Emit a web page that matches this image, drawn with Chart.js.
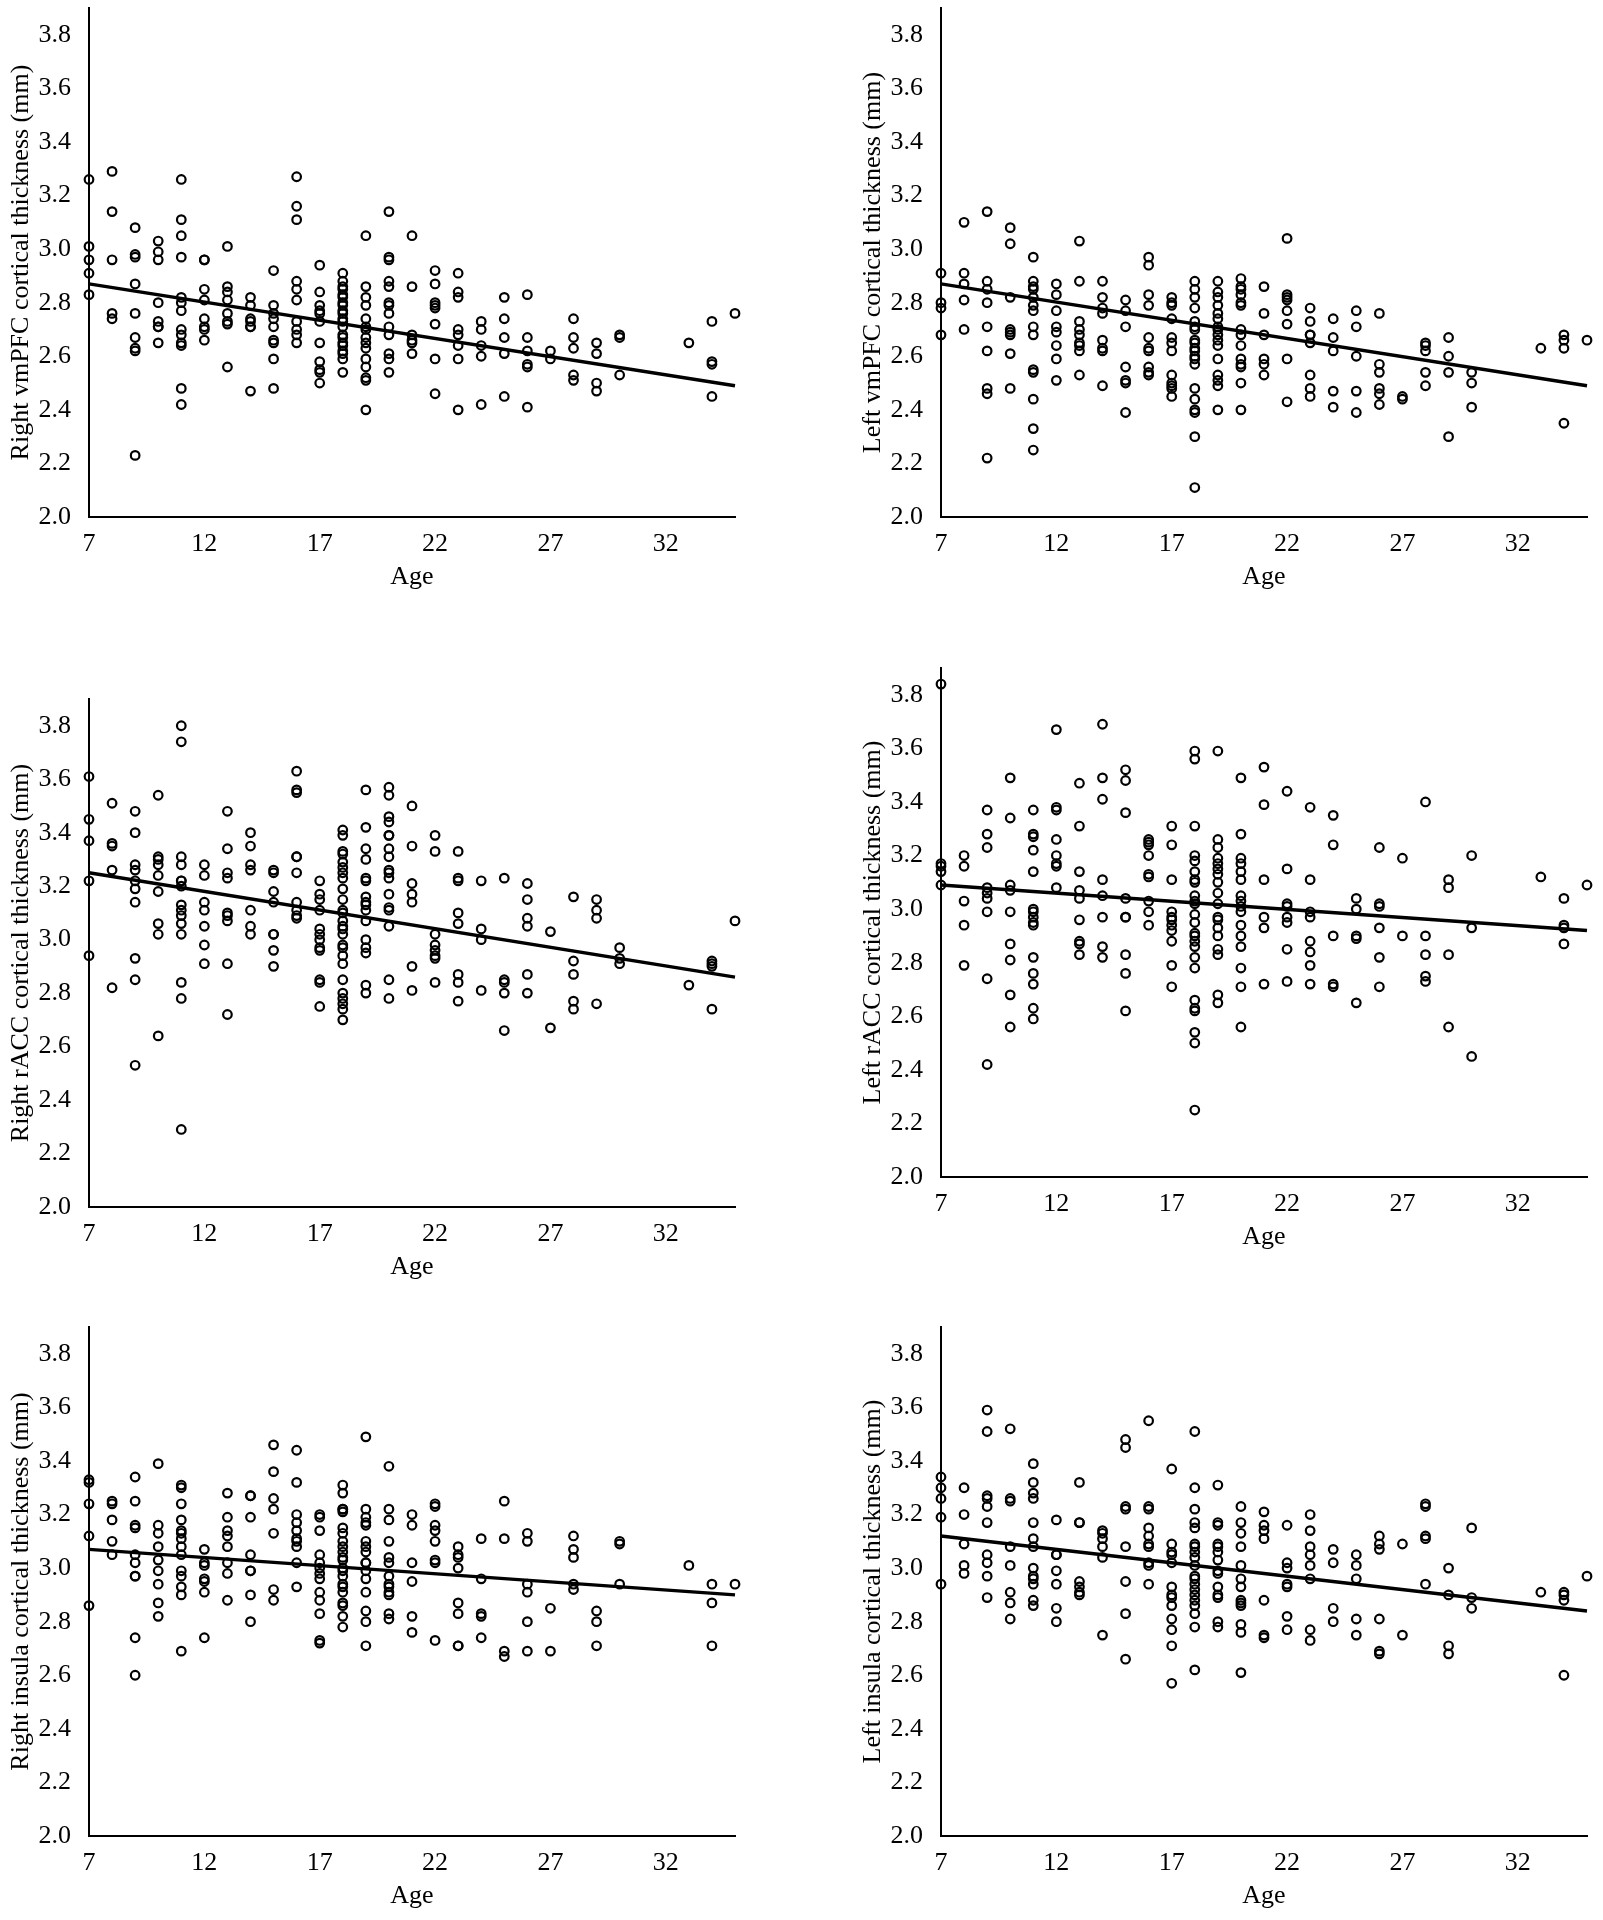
<!DOCTYPE html>
<html>
<head>
    <title>Cortical thickness by age</title>
    <script src="https://cdn.jsdelivr.net/npm/chart.js"></script>
    <style>
        body { margin: 0; background: #fff; }
        #wrap { position: relative; width: 1603px; height: 1920px; overflow: hidden; background: #fff; }
        canvas { position: absolute; }
    </style>
</head>
<body>
<div id="wrap"></div>
<script>
// ages present in the sample (no subjects aged 31-32)
const AGES = [7, 8, 9, 10, 11, 12, 13, 14, 15, 16, 17, 18, 19, 20, 21, 22, 23, 24, 25, 26, 27, 28, 29, 30, 33, 34, 35];
const X_TICKS = [7, 12, 17, 22, 27, 32];
const Y_TICKS = [2.0, 2.2, 2.4, 2.6, 2.8, 3.0, 3.2, 3.4, 3.6, 3.8];
const TREND_X = [7, 35];

// thickness values, one list per age in AGES order
const rightVmPFC = [
    [3.26, 3.01, 2.96, 2.91, 2.83],
    [3.29, 3.14, 2.96, 2.76, 2.74],
    [3.08, 2.98, 2.97, 2.87, 2.76, 2.67, 2.63, 2.62, 2.23],
    [3.03, 2.99, 2.96, 2.80, 2.73, 2.71, 2.71, 2.65],
    [3.26, 3.11, 3.05, 2.97, 2.82, 2.80, 2.77, 2.70, 2.68, 2.65, 2.64, 2.48, 2.42],
    [2.96, 2.96, 2.85, 2.81, 2.74, 2.71, 2.70, 2.66],
    [3.01, 2.86, 2.84, 2.81, 2.76, 2.73, 2.72, 2.56],
    [2.82, 2.79, 2.74, 2.73, 2.71, 2.71, 2.47],
    [2.92, 2.79, 2.76, 2.74, 2.71, 2.66, 2.65, 2.59, 2.48],
    [3.27, 3.16, 3.11, 2.88, 2.85, 2.81, 2.73, 2.70, 2.68, 2.65],
    [2.94, 2.84, 2.79, 2.77, 2.76, 2.73, 2.65, 2.58, 2.55, 2.54, 2.50],
    [2.91, 2.88, 2.86, 2.85, 2.83, 2.82, 2.80, 2.79, 2.77, 2.76, 2.74, 2.73, 2.71, 2.68, 2.67, 2.65, 2.64, 2.62, 2.61, 2.59, 2.54],
    [3.05, 2.86, 2.82, 2.79, 2.74, 2.71, 2.70, 2.67, 2.65, 2.63, 2.59, 2.56, 2.52, 2.51, 2.40],
    [3.14, 2.97, 2.96, 2.88, 2.86, 2.80, 2.79, 2.76, 2.71, 2.68, 2.61, 2.59, 2.54],
    [3.05, 2.86, 2.68, 2.66, 2.65, 2.61],
    [2.92, 2.87, 2.80, 2.79, 2.78, 2.72, 2.59, 2.46],
    [2.91, 2.84, 2.82, 2.70, 2.68, 2.64, 2.59, 2.40],
    [2.73, 2.70, 2.64, 2.60, 2.42],
    [2.82, 2.74, 2.67, 2.61, 2.45],
    [2.83, 2.67, 2.62, 2.57, 2.56, 2.41],
    [2.62, 2.59],
    [2.74, 2.67, 2.63, 2.53, 2.51],
    [2.65, 2.61, 2.50, 2.47],
    [2.68, 2.67, 2.53],
    [2.65],
    [2.73, 2.58, 2.57, 2.45],
    [2.76]
];
const leftVmPFC = [
    [2.91, 2.80, 2.78, 2.68],
    [3.10, 2.91, 2.87, 2.81, 2.70],
    [3.14, 2.88, 2.85, 2.80, 2.71, 2.62, 2.48, 2.46, 2.22],
    [3.08, 3.02, 2.82, 2.70, 2.69, 2.68, 2.61, 2.48],
    [2.97, 2.88, 2.86, 2.85, 2.82, 2.79, 2.77, 2.71, 2.68, 2.55, 2.54, 2.44, 2.33, 2.25],
    [2.87, 2.83, 2.77, 2.71, 2.69, 2.64, 2.59, 2.51],
    [3.03, 2.88, 2.73, 2.70, 2.68, 2.65, 2.64, 2.62, 2.53],
    [2.88, 2.82, 2.78, 2.76, 2.66, 2.63, 2.62, 2.49],
    [2.81, 2.77, 2.71, 2.56, 2.51, 2.50, 2.39],
    [2.97, 2.94, 2.83, 2.79, 2.67, 2.63, 2.62, 2.56, 2.54, 2.53],
    [2.82, 2.80, 2.79, 2.74, 2.67, 2.65, 2.62, 2.53, 2.50, 2.49, 2.48, 2.45],
    [2.88, 2.85, 2.82, 2.78, 2.73, 2.71, 2.70, 2.66, 2.65, 2.63, 2.62, 2.60, 2.59, 2.57, 2.48, 2.44, 2.40, 2.39, 2.30, 2.11],
    [2.88, 2.84, 2.82, 2.79, 2.76, 2.74, 2.71, 2.70, 2.68, 2.66, 2.64, 2.59, 2.53, 2.51, 2.49, 2.40],
    [2.89, 2.86, 2.85, 2.83, 2.80, 2.79, 2.70, 2.68, 2.64, 2.59, 2.57, 2.56, 2.50, 2.40],
    [2.86, 2.76, 2.68, 2.59, 2.57, 2.53],
    [3.04, 2.83, 2.82, 2.81, 2.77, 2.72, 2.59, 2.43],
    [2.78, 2.73, 2.68, 2.68, 2.65, 2.53, 2.48, 2.45],
    [2.74, 2.67, 2.62, 2.47, 2.41],
    [2.77, 2.71, 2.60, 2.47, 2.39],
    [2.76, 2.57, 2.54, 2.48, 2.46, 2.42],
    [2.45, 2.44],
    [2.65, 2.64, 2.62, 2.54, 2.49],
    [2.67, 2.60, 2.54, 2.30],
    [2.54, 2.50, 2.41],
    [2.63],
    [2.68, 2.66, 2.63, 2.35],
    [2.66]
];
const rightRACC = [
    [3.61, 3.45, 3.37, 3.22, 2.94],
    [3.51, 3.36, 3.35, 3.26, 2.82],
    [3.48, 3.40, 3.28, 3.26, 3.22, 3.19, 3.14, 2.93, 2.85, 2.53],
    [3.54, 3.31, 3.30, 3.28, 3.24, 3.18, 3.06, 3.02, 2.64],
    [3.80, 3.74, 3.31, 3.28, 3.22, 3.22, 3.20, 3.13, 3.11, 3.09, 3.06, 3.02, 2.84, 2.78, 2.29],
    [3.28, 3.24, 3.14, 3.11, 3.05, 2.98, 2.91],
    [3.48, 3.34, 3.25, 3.23, 3.10, 3.09, 3.07, 2.91, 2.72],
    [3.40, 3.35, 3.28, 3.26, 3.11, 3.05, 3.02],
    [3.26, 3.25, 3.18, 3.14, 3.02, 3.02, 2.96, 2.90],
    [3.63, 3.56, 3.55, 3.31, 3.31, 3.25, 3.14, 3.11, 3.09, 3.08],
    [3.22, 3.17, 3.15, 3.11, 3.04, 3.02, 3.00, 2.97, 2.96, 2.85, 2.84, 2.75],
    [3.41, 3.39, 3.33, 3.32, 3.29, 3.27, 3.25, 3.23, 3.19, 3.15, 3.11, 3.10, 3.07, 3.05, 3.04, 3.02, 2.98, 2.97, 2.94, 2.91, 2.85, 2.80, 2.78, 2.76, 2.74, 2.70],
    [3.56, 3.42, 3.34, 3.30, 3.23, 3.22, 3.16, 3.14, 3.13, 3.11, 3.07, 3.00, 2.97, 2.95, 2.83, 2.80],
    [3.57, 3.54, 3.46, 3.44, 3.39, 3.39, 3.34, 3.31, 3.26, 3.25, 3.23, 3.17, 3.12, 3.11, 3.05, 2.85, 2.78],
    [3.50, 3.35, 3.21, 3.17, 3.14, 2.90, 2.81],
    [3.39, 3.33, 3.02, 2.98, 2.96, 2.94, 2.93, 2.84],
    [3.33, 3.23, 3.22, 3.10, 3.06, 2.87, 2.84, 2.77],
    [3.22, 3.04, 3.00, 2.81],
    [3.23, 2.85, 2.84, 2.80, 2.66],
    [3.21, 3.15, 3.08, 3.05, 2.87, 2.80],
    [3.03, 2.67],
    [3.16, 2.92, 2.87, 2.77, 2.74],
    [3.15, 3.11, 3.08, 2.76],
    [2.97, 2.93, 2.91],
    [2.83],
    [2.92, 2.91, 2.90, 2.74],
    [3.07]
];
const leftRACC = [
    [3.84, 3.17, 3.16, 3.14, 3.09],
    [3.20, 3.16, 3.03, 2.94, 2.79],
    [3.37, 3.28, 3.23, 3.08, 3.06, 3.04, 2.99, 2.74, 2.42],
    [3.49, 3.34, 3.09, 3.07, 2.99, 2.87, 2.81, 2.68, 2.56],
    [3.37, 3.28, 3.27, 3.22, 3.14, 3.00, 2.99, 2.97, 2.95, 2.94, 2.82, 2.76, 2.72, 2.63, 2.59],
    [3.67, 3.38, 3.37, 3.26, 3.20, 3.17, 3.16, 3.08],
    [3.47, 3.31, 3.14, 3.07, 3.04, 2.96, 2.88, 2.87, 2.83],
    [3.69, 3.49, 3.41, 3.11, 3.05, 2.97, 2.86, 2.82],
    [3.52, 3.48, 3.36, 3.04, 2.97, 2.97, 2.83, 2.76, 2.62],
    [3.26, 3.25, 3.24, 3.20, 3.13, 3.12, 3.03, 2.99, 2.94],
    [3.31, 3.24, 3.11, 2.99, 2.97, 2.96, 2.94, 2.92, 2.88, 2.79, 2.71],
    [3.59, 3.56, 3.31, 3.20, 3.18, 3.14, 3.11, 3.10, 3.05, 3.03, 3.02, 2.98, 2.95, 2.91, 2.90, 2.88, 2.86, 2.82, 2.78, 2.66, 2.63, 2.62, 2.54, 2.50, 2.25],
    [3.59, 3.26, 3.23, 3.19, 3.17, 3.15, 3.13, 3.10, 3.06, 3.02, 2.97, 2.96, 2.93, 2.90, 2.85, 2.83, 2.68, 2.65],
    [3.49, 3.28, 3.19, 3.17, 3.14, 3.11, 3.05, 3.03, 3.01, 2.99, 2.94, 2.90, 2.86, 2.78, 2.71, 2.56],
    [3.53, 3.39, 3.11, 2.97, 2.93, 2.72],
    [3.44, 3.15, 3.02, 3.01, 2.97, 2.95, 2.85, 2.73],
    [3.38, 3.11, 2.99, 2.97, 2.88, 2.84, 2.79, 2.72],
    [3.35, 3.24, 2.90, 2.72, 2.71],
    [3.04, 3.00, 2.90, 2.89, 2.65],
    [3.23, 3.02, 3.01, 2.93, 2.82, 2.71],
    [3.19, 2.90],
    [3.40, 2.90, 2.83, 2.75, 2.73],
    [3.11, 3.08, 2.83, 2.56],
    [3.20, 2.93, 2.45],
    [3.12],
    [3.04, 2.94, 2.93, 2.87],
    [3.09]
];
const rightInsula = [
    [3.33, 3.32, 3.24, 3.12, 2.86],
    [3.25, 3.24, 3.18, 3.10, 3.05],
    [3.34, 3.25, 3.16, 3.15, 3.05, 3.02, 2.97, 2.97, 2.74, 2.60],
    [3.39, 3.16, 3.13, 3.08, 3.03, 2.99, 2.94, 2.87, 2.82],
    [3.31, 3.30, 3.24, 3.18, 3.14, 3.13, 3.11, 3.08, 3.05, 2.99, 2.97, 2.93, 2.90, 2.69],
    [3.07, 3.02, 3.01, 2.96, 2.95, 2.91, 2.74],
    [3.28, 3.19, 3.14, 3.12, 3.08, 3.02, 2.98, 2.88],
    [3.27, 3.27, 3.19, 3.05, 2.99, 2.99, 2.90, 2.80],
    [3.46, 3.36, 3.26, 3.22, 3.13, 2.92, 2.88],
    [3.44, 3.32, 3.20, 3.17, 3.14, 3.11, 3.10, 3.08, 3.02, 2.93],
    [3.20, 3.19, 3.14, 3.05, 3.02, 3.00, 2.98, 2.96, 2.91, 2.88, 2.83, 2.73, 2.72],
    [3.31, 3.28, 3.22, 3.22, 3.21, 3.15, 3.13, 3.10, 3.08, 3.06, 3.04, 3.03, 3.00, 2.99, 2.97, 2.94, 2.93, 2.91, 2.87, 2.86, 2.82, 2.78],
    [3.49, 3.22, 3.19, 3.17, 3.16, 3.10, 3.08, 3.06, 3.02, 3.02, 2.99, 2.96, 2.91, 2.84, 2.80, 2.71],
    [3.38, 3.22, 3.18, 3.10, 3.04, 3.02, 2.97, 2.94, 2.93, 2.91, 2.90, 2.83, 2.81],
    [3.20, 3.16, 3.02, 2.95, 2.82, 2.76],
    [3.24, 3.23, 3.16, 3.14, 3.10, 3.03, 3.02, 2.73],
    [3.08, 3.05, 3.04, 3.00, 2.87, 2.83, 2.71, 2.71],
    [3.11, 2.96, 2.83, 2.82, 2.74],
    [3.25, 3.11, 2.69, 2.67],
    [3.13, 3.10, 2.94, 2.91, 2.80, 2.69],
    [2.85, 2.69],
    [3.12, 3.07, 3.04, 2.94, 2.92],
    [2.84, 2.80, 2.71],
    [3.10, 3.09, 2.94],
    [3.01],
    [2.94, 2.87, 2.71],
    [2.94]
];
const leftInsula = [
    [3.34, 3.30, 3.26, 3.19, 2.94],
    [3.30, 3.20, 3.09, 3.01, 2.98],
    [3.59, 3.51, 3.27, 3.26, 3.23, 3.17, 3.05, 3.02, 2.97, 2.89],
    [3.52, 3.26, 3.25, 3.08, 3.01, 2.91, 2.87, 2.81],
    [3.39, 3.32, 3.28, 3.26, 3.17, 3.11, 3.08, 3.00, 2.97, 2.96, 2.94, 2.88, 2.86],
    [3.18, 3.05, 3.05, 2.99, 2.94, 2.85, 2.80],
    [3.32, 3.17, 3.17, 2.95, 2.93, 2.91, 2.90],
    [3.14, 3.13, 3.11, 3.08, 3.04, 2.75],
    [3.48, 3.45, 3.23, 3.22, 3.08, 2.95, 2.83, 2.66],
    [3.55, 3.23, 3.22, 3.15, 3.12, 3.09, 3.08, 3.02, 3.01, 2.94],
    [3.37, 3.09, 3.06, 3.05, 3.02, 2.93, 2.90, 2.89, 2.86, 2.81, 2.77, 2.71, 2.57],
    [3.51, 3.30, 3.22, 3.17, 3.15, 3.09, 3.08, 3.06, 3.04, 3.01, 2.97, 2.96, 2.94, 2.92, 2.90, 2.88, 2.86, 2.83, 2.78, 2.62],
    [3.31, 3.17, 3.16, 3.09, 3.08, 3.06, 3.03, 2.99, 2.98, 2.93, 2.90, 2.89, 2.80, 2.78],
    [3.23, 3.17, 3.13, 3.08, 3.01, 2.96, 2.93, 2.88, 2.87, 2.86, 2.79, 2.76, 2.61],
    [3.21, 3.16, 3.14, 3.11, 2.88, 2.75, 2.74],
    [3.16, 3.02, 3.00, 2.94, 2.93, 2.82, 2.77],
    [3.20, 3.14, 3.08, 3.05, 3.01, 2.96, 2.77, 2.73],
    [3.07, 3.02, 2.85, 2.80],
    [3.05, 3.01, 2.96, 2.81, 2.75],
    [3.12, 3.09, 3.07, 2.81, 2.69, 2.68],
    [3.09, 2.75],
    [3.24, 3.23, 3.12, 3.11, 2.94],
    [3.00, 2.90, 2.71, 2.68],
    [3.15, 2.89, 2.85],
    [2.91],
    [2.91, 2.90, 2.88, 2.60],
    [2.97]
];

// fitted lines, value at age 7 and at age 35
const rightVmPFCTrend = [2.87, 2.49];
const leftVmPFCTrend = [2.87, 2.49];
const rightRACCTrend = [3.25, 2.86];
const leftRACCTrend = [3.09, 2.92];
const rightInsulaTrend = [3.07, 2.90];
const leftInsulaTrend = [3.12, 2.84];

const panels = [
    { title: 'Right vmPFC cortical thickness (mm)', values: rightVmPFC, trend: rightVmPFCTrend, axisX: 89, top: 8, bottom: 517 },
    { title: 'Left vmPFC cortical thickness (mm)', values: leftVmPFC, trend: leftVmPFCTrend, axisX: 941, top: 8, bottom: 517 },
    { title: 'Right rACC cortical thickness (mm)', values: rightRACC, trend: rightRACCTrend, axisX: 89, top: 699, bottom: 1207 },
    { title: 'Left rACC cortical thickness (mm)', values: leftRACC, trend: leftRACCTrend, axisX: 941, top: 668, bottom: 1177 },
    { title: 'Right insula cortical thickness (mm)', values: rightInsula, trend: rightInsulaTrend, axisX: 89, top: 1327, bottom: 1836 },
    { title: 'Left insula cortical thickness (mm)', values: leftInsula, trend: leftInsulaTrend, axisX: 941, top: 1327, bottom: 1836 }
];

const PLOT_W = 646;
const Y_W = 89;
const X_H = 84;
const PAD_T = 10;
const PAD_R = 14;
const FONT = { family: "'Liberation Serif', 'Times New Roman', serif", size: 26 };

function makePanel(p) {
    const canvas = document.createElement('canvas');
    const w = Y_W + PLOT_W + PAD_R;
    const h = PAD_T + (p.bottom - p.top) + X_H;
    canvas.width = w;
    canvas.height = h;
    canvas.style.width = w + 'px';
    canvas.style.height = h + 'px';
    canvas.style.left = (p.axisX - Y_W) + 'px';
    canvas.style.top = (p.top - PAD_T) + 'px';
    document.getElementById('wrap').appendChild(canvas);

    const pts = [];
    AGES.forEach((age, i) => {
        p.values[i].forEach(v => pts.push({ x: age, y: v }));
    });
    const line = TREND_X.map((x, i) => ({ x: x, y: p.trend[i] }));

    new Chart(canvas.getContext('2d'), {
        type: 'scatter',
        data: {
            datasets: [
                {
                    type: 'line',
                    data: line,
                    borderColor: '#000',
                    borderWidth: 3.4,
                    pointRadius: 0,
                    fill: false,
                    clip: false,
                    order: 1
                },
                {
                    type: 'scatter',
                    data: pts,
                    pointStyle: 'circle',
                    pointRadius: 4.3,
                    borderWidth: 2.2,
                    borderColor: '#000',
                    backgroundColor: 'rgba(0,0,0,0)',
                    clip: false,
                    order: 2
                }
            ]
        },
        options: {
            responsive: false,
            animation: false,
            devicePixelRatio: 1,
            layout: { padding: { top: PAD_T, right: PAD_R, left: 0, bottom: 0 } },
            plugins: { legend: { display: false }, tooltip: { enabled: false } },
            scales: {
                x: {
                    type: 'linear',
                    min: 7,
                    max: 35,
                    grid: { display: false, drawTicks: false },
                    border: { display: true, color: '#000', width: 2 },
                    ticks: { font: FONT, color: '#000', padding: 12, callback: v => String(v) },
                    title: { display: true, text: 'Age', font: FONT, color: '#000', padding: { top: 0, bottom: 8 } },
                    afterBuildTicks: s => { s.ticks = X_TICKS.map(v => ({ value: v })); },
                    afterFit: s => { s.height = X_H; s.paddingLeft = 0; s.paddingRight = 0; }
                },
                y: {
                    type: 'linear',
                    min: 2.0,
                    max: 3.9,
                    grid: { display: false, drawTicks: false },
                    border: { display: true, color: '#000', width: 2 },
                    ticks: { font: FONT, color: '#000', padding: 18, callback: v => v.toFixed(1) },
                    title: { display: true, text: p.title, font: FONT, color: '#000', padding: { top: 6, bottom: 0 } },
                    afterBuildTicks: s => { s.ticks = Y_TICKS.map(v => ({ value: v })); },
                    afterFit: s => { s.width = Y_W; s.paddingTop = 0; s.paddingBottom = 0; }
                }
            }
        }
    });
}

panels.forEach(makePanel);
</script>
</body>
</html>
